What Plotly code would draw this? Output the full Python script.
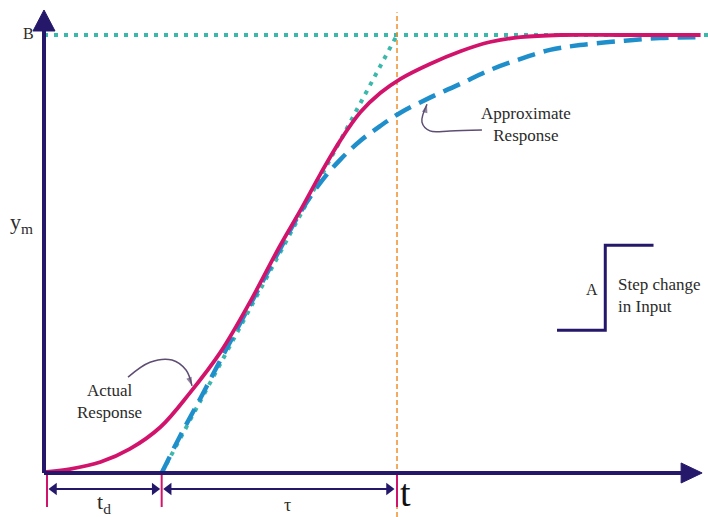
import plotly.graph_objects as go

# ---------------- data ----------------
t_actual = [0, 0.22, 0.48, 0.73, 0.99, 1.24, 1.5, 1.75, 2.0, 2.18, 2.35, 2.52, 2.69, 2.86,
            3.03, 3.28, 3.54, 3.79, 4.05, 4.39, 4.9, 5.58]
y_actual = [0.002, 0.009, 0.025, 0.055, 0.105, 0.183, 0.276, 0.39, 0.516, 0.6, 0.683,
            0.76, 0.824, 0.868, 0.9, 0.934, 0.963, 0.984, 0.995, 1.0, 1.0, 1.0]

t_approx = [1.0, 1.156, 1.326, 1.496, 1.751, 2.006, 2.176, 2.346, 2.516, 2.686, 2.856, 3.025,
            3.28, 3.535, 3.79, 4.045, 4.3, 4.555, 4.895, 5.235, 5.575]
y_approx = [0.0, 0.084, 0.169, 0.256, 0.384, 0.511, 0.594, 0.662, 0.715, 0.758, 0.792, 0.822,
            0.857, 0.888, 0.92, 0.945, 0.966, 0.977, 0.986, 0.993, 0.995]

td = 1.0          # dead time
tau = 2.0         # time constant
B = 1.0           # final value
t_max = 5.44      # end of time axis line
y_max = 1.016     # end of y axis line

# step-input sketch
step_t = [4.36, 4.77, 4.77, 5.18]
step_y = [0.326, 0.326, 0.52, 0.52]

# callout curves
call_actual_t = [0.714, 0.901, 1.088, 1.207, 1.258]
call_actual_y = [0.219, 0.253, 0.258, 0.235, 0.199]
call_approx_t = [3.722, 3.45, 3.28, 3.212, 3.255]
call_approx_y = [0.783, 0.781, 0.781, 0.801, 0.842]

# ---------------- figure geometry ----------------
W, H = 708, 517
XR = [-0.374, 5.643]
YR = [-0.1005, 1.0799]
DX = (XR[1] - XR[0]) / W     # data units per pixel
DY = (YR[1] - YR[0]) / H

NAVY = "#25186b"
PINK = "#d2136b"
BLUE = "#1f8fcc"
TEAL = "#3bb8ab"
ORANGE = "#f0902c"
TXT = "#2b2b2b"
CALL = "#5e4d72"
FONT = "Liberation Serif"

fig = go.Figure()

def line(x, y, color, width, dash="solid", shape="linear", **kw):
    fig.add_trace(go.Scatter(x=x, y=y, mode="lines", line_shape=shape,
                             line=dict(color=color, width=width, dash=dash),
                             hoverinfo="skip", **kw))

# final value line B and tangent
line([0, XR[1]], [B, B], TEAL, 4, "4px,6px")
line([td, td + tau], [0, B], TEAL, 4, "4px,6px")
# t = td + tau vertical
line([td + tau, td + tau], [YR[0], 1.052], ORANGE, 1.5, "5px,3px")
# approximate response
line(t_approx, y_approx, BLUE, 4.5, "18px,9px", "spline")
# actual response
line(t_actual, y_actual, PINK, 3.8, "solid", "spline")

# axes lines
line([0, 0], [0, y_max], NAVY, 4)
line([0, t_max], [0, 0], NAVY, 4)
# arrow heads of axes
tip_y = y_max + 18 * DY
fig.add_trace(go.Scatter(x=[-11 * DX, 11 * DX, 0, -11 * DX],
                         y=[y_max - 3 * DY, y_max - 3 * DY, tip_y, y_max - 3 * DY],
                         mode="lines", fill="toself", fillcolor=NAVY, line=dict(color=NAVY, width=1),
                         hoverinfo="skip"))
tip_x = t_max + 18 * DX
fig.add_trace(go.Scatter(x=[t_max - 3 * DX, t_max - 3 * DX, tip_x, t_max - 3 * DX],
                         y=[-10 * DY, 10 * DY, 0, -10 * DY],
                         mode="lines", fill="toself", fillcolor=NAVY, line=dict(color=NAVY, width=1),
                         hoverinfo="skip"))

# step input sketch
line(step_t, step_y, NAVY, 3)

# pink tick marks under axis
for xv in [3 * DX, td, td + tau]:
    line([xv, xv], [-2 * DY, -34 * DY], PINK, 2)

# double headed arrows td and tau
yarr = -16 * DY
for a, b in [(10 * DX, td - 7 * DX), (td + 7 * DX, td + tau - 8 * DX)]:
    fig.add_trace(go.Scatter(x=[a, b], y=[yarr, yarr], mode="lines+markers",
                             line=dict(color=NAVY, width=2),
                             marker=dict(symbol=["triangle-left", "triangle-right"], size=11,
                                         color=NAVY, line=dict(width=0)),
                             hoverinfo="skip"))

# callout curves with arrow heads
for cx, cy in [(call_actual_t, call_actual_y), (call_approx_t, call_approx_y)]:
    fig.add_trace(go.Scatter(x=cx, y=cy, mode="lines+markers", line_shape="spline",
                             line=dict(color=CALL, width=1.5),
                             marker=dict(symbol="arrow", angleref="previous",
                                         size=[0] * (len(cx) - 1) + [9], color=CALL,
                                         line=dict(width=0)),
                             hoverinfo="skip"))

ann = []

def txt(x, y, s, size, color=TXT, align="center", xanchor="center", yanchor="middle"):
    ann.append(dict(x=x, y=y, xref="x", yref="y", text=s, showarrow=False, align=align,
                    xanchor=xanchor, yanchor=yanchor,
                    font=dict(family=FONT, size=size, color=color)))

txt(-0.136, 1.003, "B", 16)
txt(-0.19, 0.57, "y<sub>m</sub>", 22)
txt(0.51, -0.068, "t<sub>d</sub>", 22)
txt(2.07, -0.072, "τ", 18)
txt(3.07, YR[0] + 1 * DY, "t", 38, color="#111111", yanchor="bottom")
txt(0.56, 0.164, "Actual<br>Response", 17)
txt(4.10, 0.795, "Approximate<br>Response", 17)
txt(4.66, 0.42, "A", 16)
txt(4.86, 0.405, "Step change<br>in Input", 17, align="left", xanchor="left")

fig.update_layout(
    width=W, height=H, autosize=False,
    margin=dict(l=0, r=0, t=0, b=0),
    paper_bgcolor="white", plot_bgcolor="white",
    showlegend=False,
    xaxis=dict(range=XR, visible=False, fixedrange=True),
    yaxis=dict(range=YR, visible=False, fixedrange=True),
    annotations=ann,
)

fig.write_html("out.html")
